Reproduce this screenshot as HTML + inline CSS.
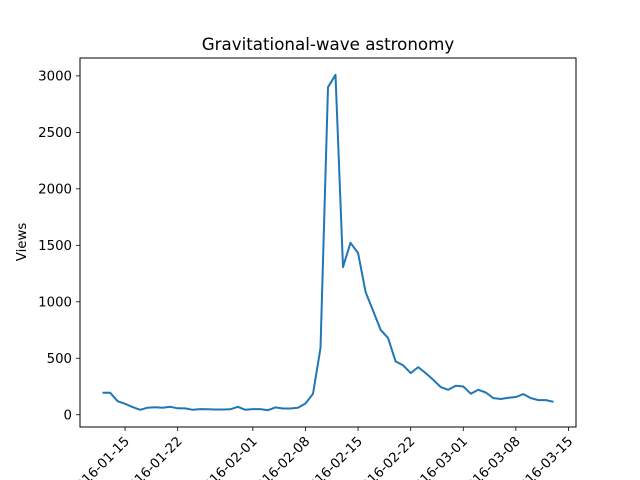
<!DOCTYPE html>
<html><head><meta charset="utf-8"><style>
body{margin:0;background:#fff}
svg{display:block;font-family:"DejaVu Sans","Liberation Sans",sans-serif}
</style></head><body>
<svg id="chart" width="640" height="480" viewBox="0 0 640 480" xmlns="http://www.w3.org/2000/svg">
<rect width="640" height="480" fill="#fff"/>
<text x="328" y="50" font-size="16.7" text-anchor="middle">Gravitational-wave astronomy</text>
<text transform="translate(26,242) rotate(-90)" font-size="13.3" text-anchor="middle">Views</text>
<g id="plot"></g>
</svg>
<script>
const startDay = -3; // 2016-01-12 relative to 2016-01-15
const views = [195,195,120,97,68,44,62,67,62,70,57,56,44,50,48,46,46,48,70,44,50,50,40,65,55,55,62,100,185,590,2900,3010,1307,1522,1431,1086,920,752,679,472,437,369,422,369,310,245,221,257,250,186,221,197,147,139,150,157,183,147,130,130,115];
const yTicks = [0,500,1000,1500,2000,2500,3000];
const xTickDays = [0,7,17,24,31,38,45,52,59];
const xTickLabels = ["2016-01-15","2016-01-22","2016-02-01","2016-02-08","2016-02-15","2016-02-22","2016-03-01","2016-03-08","2016-03-15"];

const L=80,R=576,T=58,B=427;
const xMin=-6,xMax=60,yMin=-108.5,yMax=3158.5;
const xs=d=>L+(d-xMin)/(xMax-xMin)*(R-L);
const ys=v=>B-(v-yMin)/(yMax-yMin)*(B-T);
const NS="http://www.w3.org/2000/svg";
const g=document.getElementById('plot');
function mk(tag,attrs){const e=document.createElementNS(NS,tag);for(const k in attrs)e.setAttribute(k,attrs[k]);g.appendChild(e);return e;}

yTicks.forEach(v=>{
  const y=ys(v);
  const t=mk('line',{x1:L-4,x2:L,y1:y,y2:y,stroke:'#000','stroke-width':0.8});
  
  
  const l=mk('text',{x:L-8,y:y+4.8,'font-size':13.3,'text-anchor':'end'});
  
  
  l.textContent=v;
});
xTickDays.forEach((d,i)=>{
  const x=xs(d);
  const t=mk('line',{x1:x,x2:x,y1:B,y2:B+4,stroke:'#000','stroke-width':0.8});
  
  
  const l=mk('text',{transform:`translate(${x+5},${B+15}) rotate(-45)`,'font-size':13.3,'text-anchor':'end'});
  
  
  l.textContent=xTickLabels[i];
});
const pts=views.map((v,i)=>xs(startDay+i).toFixed(1)+','+ys(v).toFixed(1)).join(' ');
const line=mk('polyline',{points:pts,fill:'none',stroke:'#1f77b4','stroke-width':2,'stroke-linejoin':'round'});


const frame=mk('rect',{x:L,y:T,width:R-L,height:B-T,fill:'none',stroke:'#000','stroke-width':1});


</script>
</body></html>
